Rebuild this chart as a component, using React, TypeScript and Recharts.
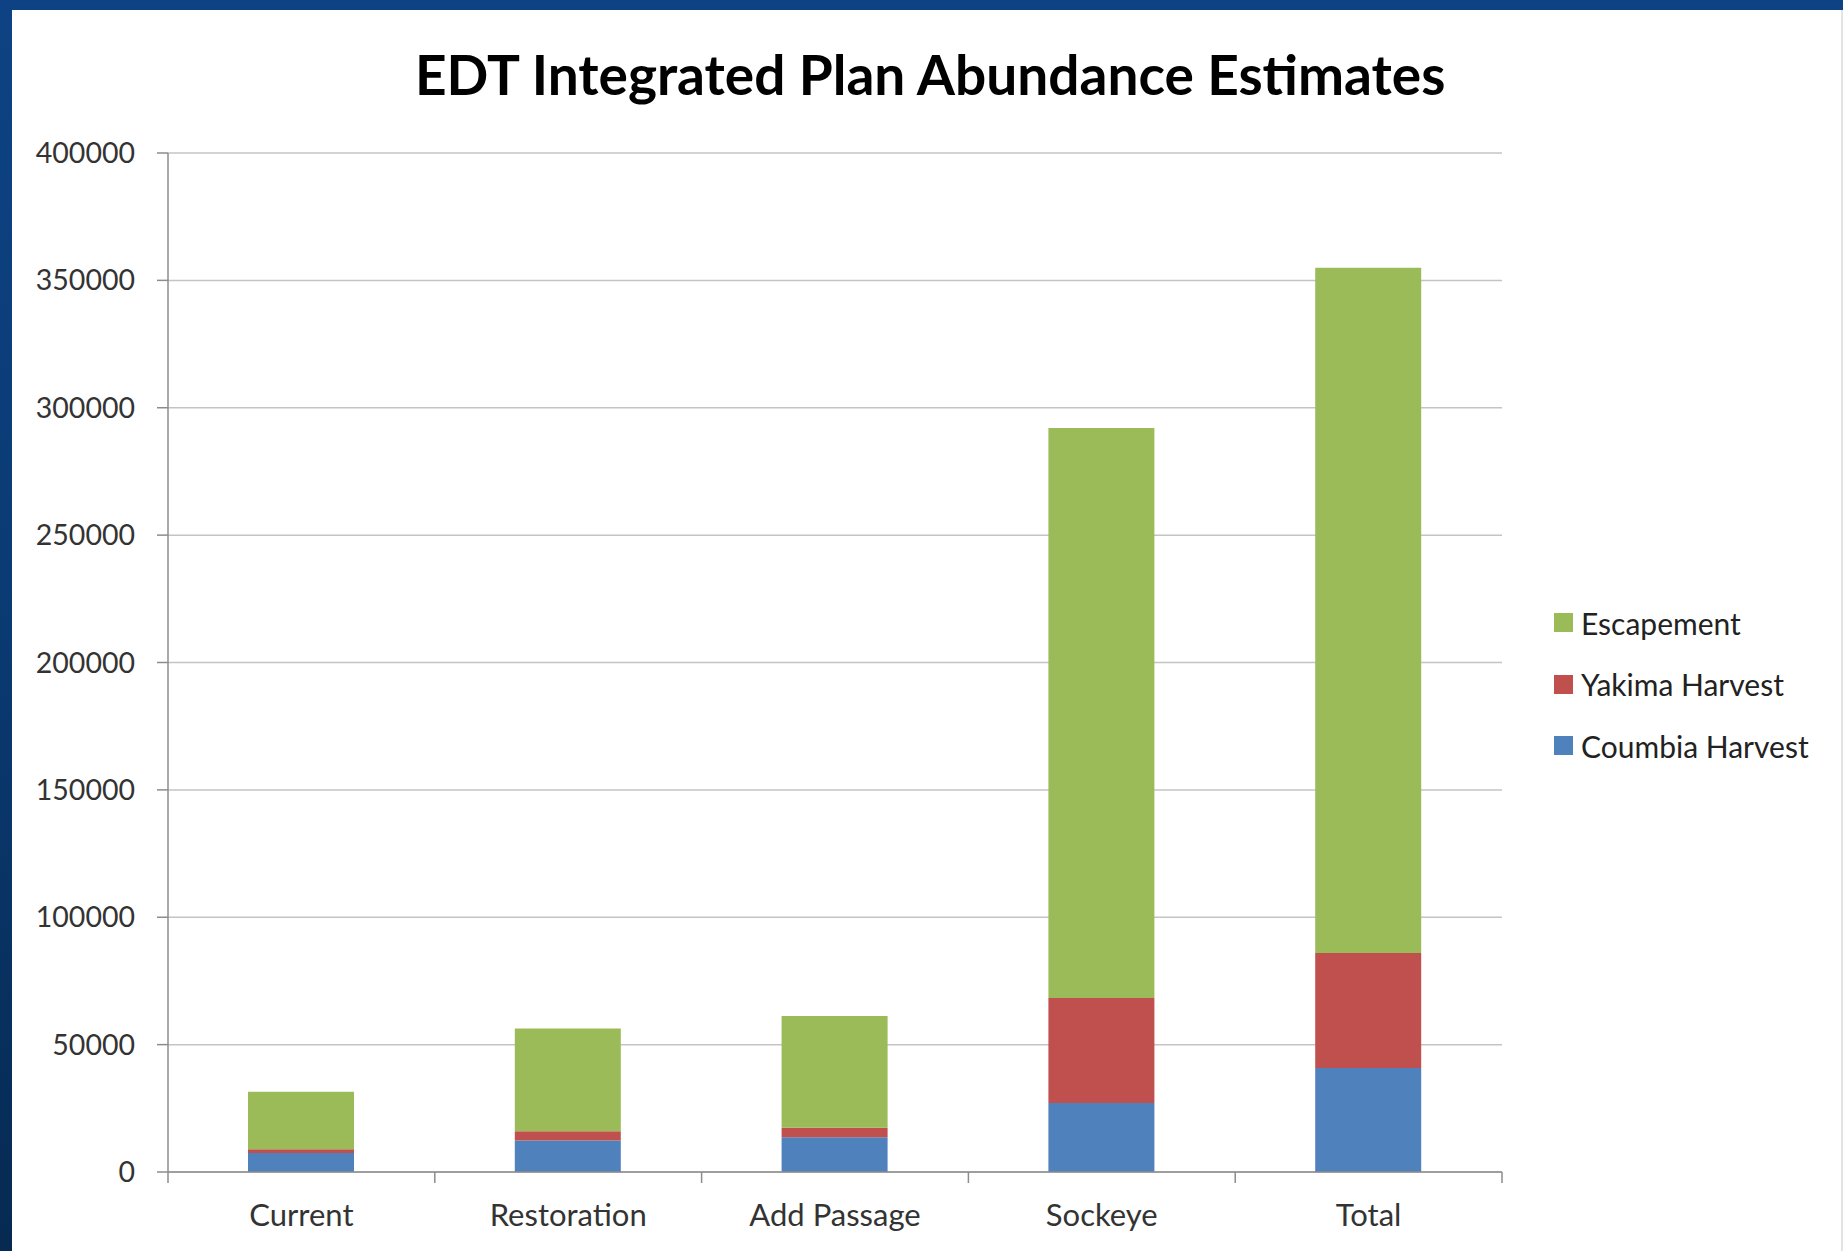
import { BarChart, Bar, XAxis, YAxis, CartesianGrid, Legend } from "recharts";

const categories = ["Current", "Restoration", "Add Passage", "Sockeye", "Total"];
const columbiaHarvest = [7500, 12400, 13600, 27100, 40800];
const yakimaHarvest = [1400, 3600, 3800, 41200, 45200];
const escapement = [22600, 40300, 43800, 223800, 269000];
const yTicks = [0, 50000, 100000, 150000, 200000, 250000, 300000, 350000, 400000];

const seriesNames = {
  columbia: "Coumbia Harvest",
  yakima: "Yakima Harvest",
  escapement: "Escapement",
};

const colors = {
  columbia: "#4F81BD",
  yakima: "#C0504D",
  escapement: "#9BBB59",
};

const data = categories.map((category, i) => ({
  category,
  columbia: columbiaHarvest[i],
  yakima: yakimaHarvest[i],
  escapement: escapement[i],
}));

const FONT = "Lato, 'Open Sans', sans-serif";
const AXIS_GRAY = "#8c8c8c";
const PLOT_LEFT = 168;
const PLOT_RIGHT = 1502;

// labels sit under the band, tick marks go between the categories like Excel does
function CategoryTick(props: any) {
  const { x, y, payload, index } = props;
  const half =
    payload && payload.offset ? payload.offset : (PLOT_RIGHT - PLOT_LEFT) / categories.length / 2;
  return (
    <g>
      <line x1={x - half} x2={x - half} y1={y} y2={y + 11} stroke={AXIS_GRAY} strokeWidth={1.5} />
      {index === categories.length - 1 && (
        <line x1={x + half} x2={x + half} y1={y} y2={y + 11} stroke={AXIS_GRAY} strokeWidth={1.5} />
      )}
      <text
        x={x}
        y={y + 42}
        textAnchor="middle"
        dominantBaseline="central"
        fill="#333"
        fontSize={31}
        fontFamily={FONT}
      >
        {payload.value}
      </text>
    </g>
  );
}

// legend lists top of the stack first
function LegendList() {
  const order: Array<keyof typeof colors> = ["escapement", "yakima", "columbia"];
  return (
    <div style={{ fontFamily: FONT }}>
      {order.map((key) => (
        <div
          key={key}
          style={{ display: "flex", alignItems: "center", height: 61.5 }}
        >
          <span
            style={{
              display: "inline-block",
              width: 19,
              height: 19,
              background: colors[key],
              marginRight: 8,
            }}
          />
          <span style={{ fontSize: 30, color: "#222", whiteSpace: "nowrap" }}>
            {seriesNames[key]}
          </span>
        </div>
      ))}
    </div>
  );
}

export default function App() {
  return (
    <div
      style={{
        position: "absolute",
        left: 0,
        top: 0,
        width: 1843,
        height: 1251,
        overflow: "hidden",
        background: "linear-gradient(180deg, #0d4384 0%, #0a3a72 50%, #062a52 100%)",
      }}
    >
      <div
        style={{
          position: "absolute",
          left: 12,
          top: 10,
          right: 0,
          bottom: 0,
          background: "#fff",
          borderRight: "2px solid #e4e4e4",
        }}
      />
      <div
        style={{
          position: "absolute",
          left: 415,
          top: 44,
          width: 1000,
          textAlign: "center",
          fontFamily: FONT,
          fontWeight: 700,
          fontSize: 55,
          lineHeight: "60px",
          color: "#000",
          whiteSpace: "nowrap",
        }}
      >
        EDT Integrated Plan Abundance Estimates
      </div>
      <div style={{ position: "absolute", left: 0, top: 0 }}>
        <BarChart
          width={1843}
          height={1251}
          data={data}
          margin={{ top: 153, right: 341, bottom: 0, left: 18 }}
        >
          <CartesianGrid vertical={false} stroke="#c4c4c4" strokeWidth={1.5} />
          <XAxis
            dataKey="category"
            height={79}
            interval={0}
            tickSize={0}
            tickMargin={0}
            tickLine={false}
            axisLine={{ stroke: AXIS_GRAY, strokeWidth: 1.5 }}
            tick={<CategoryTick />}
          />
          <YAxis
            width={150}
            domain={[0, 400000]}
            ticks={yTicks}
            interval={0}
            tickSize={11}
            tickMargin={22}
            axisLine={{ stroke: AXIS_GRAY, strokeWidth: 1.5 }}
            tickLine={{ stroke: AXIS_GRAY, strokeWidth: 1.5 }}
            tick={{ fill: "#333", fontSize: 28.5, fontFamily: FONT }}
          />
          <Legend
            layout="vertical"
            align="center"
            verticalAlign="middle"
            wrapperStyle={{ left: 1554, top: 592, width: 285 }}
            content={() => <LegendList />}
          />
          <Bar
            dataKey="columbia"
            name={seriesNames.columbia}
            stackId="a"
            fill={colors.columbia}
            barSize={106}
            isAnimationActive={false}
          />
          <Bar
            dataKey="yakima"
            name={seriesNames.yakima}
            stackId="a"
            fill={colors.yakima}
            barSize={106}
            isAnimationActive={false}
          />
          <Bar
            dataKey="escapement"
            name={seriesNames.escapement}
            stackId="a"
            fill={colors.escapement}
            barSize={106}
            isAnimationActive={false}
          />
        </BarChart>
      </div>
    </div>
  );
}
